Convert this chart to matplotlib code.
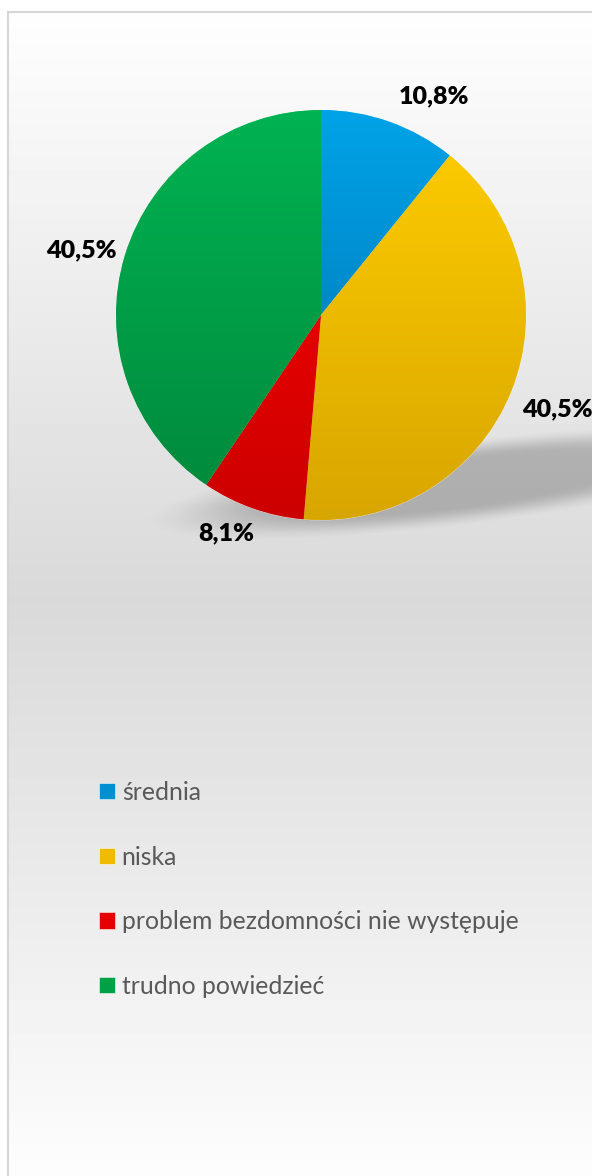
import matplotlib
matplotlib.use('Agg')
import matplotlib.pyplot as plt
import numpy as np
from matplotlib.colors import LinearSegmentedColormap
from matplotlib.patches import Rectangle

W, H = 592, 1176

categories = ['średnia', 'niska', 'problem bezdomności nie występuje', 'trudno powiedzieć']
values = [10.8, 40.5, 8.1, 40.5]
pct_labels = ['10,8%', '40,5%', '8,1%', '40,5%']
top_colors = ['#00a3e8', '#ffce00', '#ff0000', '#00b352']
bottom_colors = ['#006dab', '#d8a600', '#cc0000', '#00873b']
mid_colors = ['#0090d0', '#f0bb00', '#e60000', '#00a046']

plt.rcParams['font.family'] = ['Lato', 'DejaVu Sans']

fig = plt.figure(figsize=(W / 100, H / 100), dpi=100)
ax = fig.add_axes([0, 0, 1, 1])

# background gradient inside the chart frame
rows = np.arange(11, H)
bg = np.interp(rows, [11, 600, H], [254, 217, 253]) / 255
ax.imshow(bg[:, None], cmap='gray', vmin=0, vmax=1, extent=[7, W, 0, H - 11],
          aspect='auto', origin='upper', zorder=0)
ax.add_patch(Rectangle((7.5, -5), W + 10, H - 11.5 + 5, fill=False,
                       edgecolor='#d6d6d6', linewidth=1.5, zorder=1))

# soft shadow under the pie
cx, cy, R = 321, H - 315, 205
gx, gy = np.meshgrid(np.arange(W) + 0.5, np.arange(H) + 0.5)
ang = np.deg2rad(-7)
dx, dy = gx - 460, gy - 483
u = dx * np.cos(ang) + dy * np.sin(ang)
v = -dx * np.sin(ang) + dy * np.cos(ang)
d = np.sqrt((u / 260) ** 2 + (v / 35) ** 2)
a = np.clip((1.25 - d) / 0.6, 0, 1)
a = a * a * (3 - 2 * a) * 0.22
shadow = np.zeros((H, W, 4))
shadow[..., 3] = a
ax.imshow(shadow, extent=[0, W, 0, H], origin='upper', aspect='auto', zorder=2)

wedges, _ = ax.pie(values, colors=mid_colors, startangle=90, counterclock=False,
                   radius=R, center=(cx, cy),
                   wedgeprops=dict(edgecolor=(1, 1, 1, 0.6), linewidth=0.6))
for w, c0, c1 in zip(wedges, top_colors, bottom_colors):
    w.set_zorder(3)
    cmap = LinearSegmentedColormap.from_list('g', [c0, c1])
    im = ax.imshow(np.linspace(0, 1, 256)[:, None], cmap=cmap, origin='upper',
                   extent=[cx - R, cx + R, cy - R, cy + R], aspect='auto', zorder=3.5)
    im.set_clip_path(w)

# data labels, nudged a little like the original best-fit placement
nudge = [-8, 0, -4, 2]
dist = [1.2, 1.24, 1.16, 1.21]
for w, lab, nd, k in zip(wedges, pct_labels, nudge, dist):
    mid = np.deg2rad((w.theta1 + w.theta2) / 2 + nd)
    ax.text(cx + k * R * np.cos(mid), cy + k * R * np.sin(mid), lab,
            ha='center', va='center', fontsize=18, fontweight='heavy',
            color='#000000', zorder=5)

ax.legend(wedges, categories, loc='upper left', bbox_to_anchor=(99, H - 781),
          bbox_transform=ax.transData, frameon=False, fontsize=17.8,
          labelcolor='#595959', handlelength=0.64, handleheight=0.64,
          handletextpad=0.28, labelspacing=1.68, borderpad=0, borderaxespad=0)

ax.set_xlim(0, W)
ax.set_ylim(0, H)
ax.set_aspect('auto')
ax.axis('off')

fig.savefig('out.png', dpi=100, facecolor='white')
